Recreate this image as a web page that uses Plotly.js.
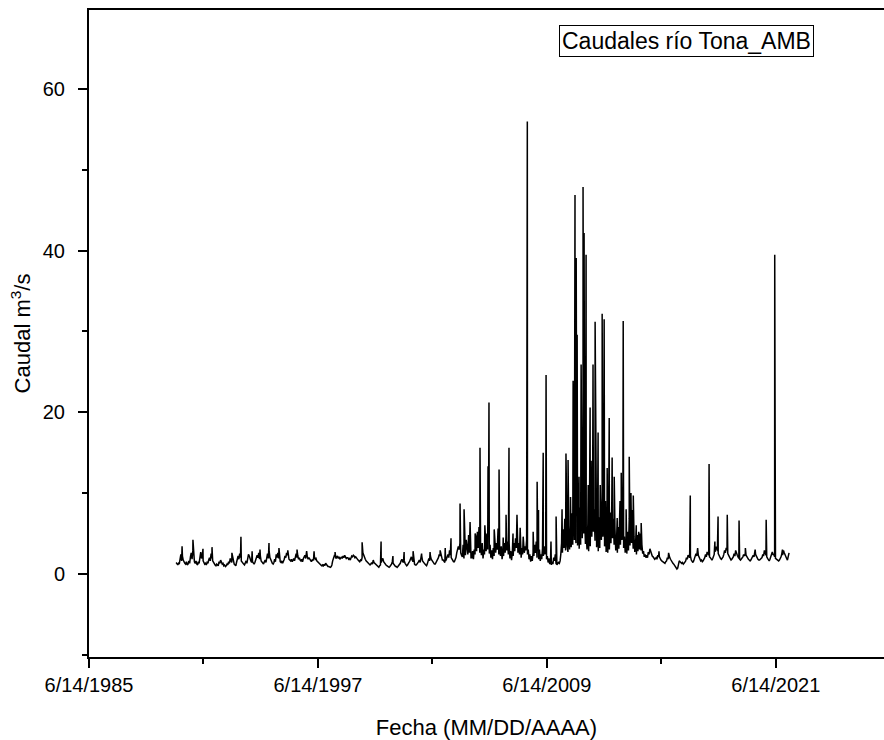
<!DOCTYPE html>
<html>
<head>
<meta charset="utf-8">
<script src="https://cdn.plot.ly/plotly-3.0.1.min.js"></script>
<style>html,body{margin:0;padding:0;background:#fff;}#chart{width:884px;height:740px;}</style>
</head>
<body>
<div id="chart"></div>
<script>
// Half-monthly flow (m3/s): two readings per month (day 8 and day 23)
const inicio = 1990;
const caudal1990_1997 = [
  1.4,1.2, 1.1,1.3, 1.2,1.8, 2.4,1.6, 2.2,1.7, 1.4,1.3, 1.2,1.5, 1.1,1.2, 1.6,1.3, 2.1,2.6, 1.8,2.9, 1.7,1.5,
  1.3,1.6, 1.2,1.1, 1.5,1.3, 2.0,2.7, 1.9,2.3, 1.6,1.4, 1.2,1.3, 1.1,1.4, 1.3,1.7, 2.0,1.6, 2.5,1.9, 1.6,1.4,
  1.2,1.1, 1.0,1.2, 1.1,1.0, 1.5,1.3, 1.7,1.4, 1.2,1.3, 1.0,1.1, 0.9,1.0, 1.2,1.1, 1.5,1.3, 1.9,1.6, 1.4,2.1,
  1.3,1.2, 1.1,1.0, 1.4,1.7, 2.2,1.8, 2.5,2.0, 1.6,1.4, 1.3,1.2, 1.1,1.4, 1.6,1.3, 1.9,2.4, 2.2,1.8, 1.6,1.4,
  1.5,1.3, 1.2,1.4, 1.6,1.9, 2.3,2.0, 2.6,1.8, 2.2,1.6, 1.4,1.3, 1.2,1.5, 1.7,1.4, 2.0,2.5, 1.9,2.8, 2.0,1.7,
  1.5,1.3, 1.2,1.4, 1.8,1.5, 2.4,2.0, 2.6,1.9, 1.7,1.5, 1.4,1.6, 1.3,1.5, 1.8,2.2, 2.0,2.6, 2.3,2.0, 1.8,1.7,
  1.6,1.8, 1.5,1.7, 1.9,1.6, 2.2,2.5, 2.0,2.3, 1.8,2.0, 1.7,1.6, 1.8,1.5, 1.9,2.1, 2.3,1.9, 2.4,2.1, 1.8,2.0,
  1.8,1.6, 1.5,1.7, 1.6,1.9, 2.1,1.8, 1.9,1.6, 1.5,1.4, 1.3,1.2, 1.1,1.0, 1.1,0.9, 1.2,1.0, 1.3,1.1, 1.0,0.9
];
const caudal1998_2005 = [
  0.9,0.8, 0.8,0.9, 1.1,1.6, 2.0,2.2, 2.1,1.9, 2.0,2.2, 1.9,2.1, 1.8,2.0, 2.1,1.9, 2.2,2.0, 2.3,2.1, 1.9,2.0,
  2.0,1.8, 1.9,1.7, 2.0,2.2, 2.1,2.3, 2.2,2.0, 2.1,1.9, 1.8,1.7, 1.6,1.5, 1.7,1.6, 2.0,2.6, 2.2,1.9, 1.8,1.6,
  1.5,1.3, 1.2,1.1, 1.1,1.2, 1.4,1.2, 1.7,1.4, 1.3,1.1, 1.0,0.9, 0.9,0.8, 1.0,1.1, 1.4,1.7, 1.9,1.5, 1.3,1.2,
  1.1,1.0, 0.9,0.9, 0.8,0.9, 1.0,1.2, 1.5,1.3, 1.1,1.0, 0.9,0.9, 0.8,0.9, 1.0,1.1, 1.3,1.6, 1.8,1.5, 1.4,1.6,
  1.3,1.1, 1.0,1.1, 1.2,1.4, 1.6,1.9, 2.1,1.7, 1.5,1.3, 1.2,1.1, 1.1,1.2, 1.3,1.5, 1.7,1.4, 2.0,2.2, 1.6,1.4,
  1.3,1.2, 1.1,1.0, 1.2,1.5, 1.9,1.6, 2.2,1.8, 1.6,1.4, 1.3,1.2, 1.2,1.4, 1.5,1.7, 2.0,2.4, 2.2,2.6, 1.9,1.7,
  1.7,1.5, 1.4,1.6, 1.8,2.1, 2.4,2.0, 2.9,2.3, 2.0,1.8, 1.6,1.5, 1.5,1.8, 2.0,2.6, 2.9,3.4, 3.0,3.8, 2.6,2.3,
  2.1,3.6, 1.9,2.9, 2.3,4.2, 3.2,2.4, 4.8,2.6, 3.5,2.0, 2.0,2.8, 1.8,3.0, 2.4,4.6, 2.8,5.2, 3.2,5.8, 2.6,3.6
];
const caudal2006_2013 = [
  2.3,3.8, 1.9,3.0, 2.4,4.4, 2.8,5.0, 3.0,4.6, 2.5,3.6, 2.0,2.9, 1.8,3.2, 2.2,4.0, 2.6,3.8, 3.0,5.6, 2.4,3.4,
  2.2,3.4, 1.8,2.6, 2.2,3.8, 2.6,4.6, 2.9,4.0, 2.4,3.8, 1.9,2.8, 1.7,2.6, 2.2,3.8, 2.8,4.4, 3.2,5.8, 2.6,3.8,
  2.4,3.6, 2.0,3.2, 2.4,4.0, 2.6,3.4, 2.9,4.2, 2.4,3.0, 1.8,2.4, 1.5,2.2, 1.6,2.6, 2.2,3.6, 2.6,4.0, 2.0,2.8,
  1.8,3.0, 1.6,2.4, 1.8,3.2, 2.2,3.4, 2.4,2.8, 1.8,2.2, 1.4,1.9, 1.2,1.6, 1.1,1.5, 1.2,2.0, 1.6,2.4, 1.2,1.1,
  1.2,1.4, 1.3,1.6, 2.4,3.8, 2.6,5.5, 3.2,6.8, 2.9,4.6, 3.4,2.7, 5.2,3.0, 6.0,3.3, 7.5,3.6, 9.0,4.2, 6.5,3.8,
  7.2,3.5, 5.6,3.1, 8.2,3.6, 9.5,4.4, 11.0,5.0, 6.8,3.7, 4.9,3.0, 6.2,2.8, 7.8,3.4, 9.8,4.6, 10.5,5.2, 8.0,4.1,
  6.5,3.3, 5.0,2.8, 7.0,3.2, 8.8,4.2, 9.4,4.6, 6.5,3.4, 5.2,2.7, 4.4,2.6, 6.0,3.0, 7.6,3.8, 8.6,4.4, 6.8,3.6,
  5.6,2.9, 4.2,2.6, 5.8,3.1, 7.2,3.6, 8.4,4.2, 5.9,3.2, 4.6,2.6, 3.8,2.5, 5.2,2.9, 6.8,3.5, 7.4,3.8, 5.6,3.1
];
const caudal2014_2022 = [
  4.6,2.7, 3.8,2.4, 4.8,2.8, 5.2,3.0, 5.0,2.9, 3.6,2.5, 2.8,2.1, 2.4,2.0, 2.3,2.0, 2.7,2.4, 3.1,2.8, 2.4,2.2,
  2.1,1.9, 1.8,1.9, 2.0,1.8, 2.3,2.1, 2.1,1.8, 1.7,1.6, 1.5,1.4, 1.4,1.3, 1.5,1.6, 2.0,1.8, 2.3,2.0, 1.8,1.6,
  1.5,1.3, 1.2,1.0, 0.9,0.8, 0.6,0.7, 1.3,1.6, 1.5,1.4, 1.3,1.4, 1.2,1.3, 1.4,1.6, 2.0,1.8, 2.3,2.1, 2.0,2.2,
  1.7,1.5, 1.4,1.6, 1.9,2.1, 2.5,2.2, 2.7,2.3, 2.0,1.8, 1.6,1.7, 1.5,1.6, 1.8,2.0, 2.4,2.1, 2.7,2.4, 2.3,2.1,
  2.0,1.8, 1.7,1.9, 2.1,2.4, 2.7,3.3, 3.3,2.8, 2.5,2.3, 2.0,1.9, 1.8,1.9, 2.1,2.4, 2.9,2.6, 3.2,2.9, 2.5,2.2,
  2.1,1.9, 1.7,1.8, 1.9,2.1, 2.5,2.2, 2.9,2.5, 2.3,2.1, 1.9,1.8, 1.7,1.8, 1.9,2.1, 2.4,2.2, 2.5,2.3, 2.1,1.9,
  1.8,1.7, 1.6,1.7, 1.9,2.0, 2.3,2.1, 2.7,2.4, 2.1,1.9, 1.8,1.7, 1.7,1.8, 1.9,2.0, 2.4,2.2, 2.9,2.6, 2.3,2.1,
  1.9,1.7, 1.6,1.8, 2.0,2.3, 2.7,2.4, 2.4,2.1, 1.9,1.8, 1.7,1.6, 1.6,1.7, 1.9,2.1, 2.5,2.3, 2.9,2.6, 2.3,2.0,
  1.9,1.7, 2.2,2.6
];

// Daily peaks (crecientes)
const fechasPicos = [
  '1990-05-01','1990-11-25','1991-06-05','1991-11-25','1992-12-10','1993-06-01',
  '1994-01-01','1994-06-01','1994-11-20','1995-05-30','1995-11-15','1996-05-10',
  '1996-11-10','1997-04-01','1998-05-08','1999-10-08','2000-10-05','2001-05-20',
  '2001-12-20','2002-06-10','2002-11-20','2003-05-01','2003-11-10','2004-02-15',
  '2004-06-05','2004-11-25','2005-02-10','2005-06-05','2005-09-10','2005-12-12',
  '2006-03-15','2006-05-15','2006-06-02','2006-09-10','2006-12-12','2007-03-01',
  '2007-04-25','2007-06-20','2007-09-05','2007-11-20','2008-01-20','2008-03-18',
  '2008-05-25','2008-06-05','2008-09-25','2008-12-10','2009-01-05','2009-04-05',
  '2009-05-30','2009-09-01','2009-12-08','2010-04-01','2010-06-15','2010-07-25',
  '2010-09-10','2010-10-30','2010-12-05','2010-12-28','2011-01-15','2011-02-20',
  '2011-04-01','2011-05-08','2011-05-28','2011-07-05','2011-08-15','2011-09-20',
  '2011-10-10','2011-11-15','2011-12-25','2012-02-20','2012-04-01','2012-05-08',
  '2012-06-15','2012-07-10','2012-08-12','2012-09-20','2012-11-15','2012-12-25',
  '2013-02-20','2013-03-28','2013-04-15','2013-05-08','2013-06-15','2013-08-10',
  '2013-10-08','2013-11-10','2013-12-05','2013-12-25','2014-02-20','2014-05-25',
  '2015-05-01','2015-11-01','2016-12-20','2017-05-10','2017-12-15','2018-04-05',
  '2018-06-05','2018-11-28','2019-07-12','2019-11-10','2020-05-15','2020-12-12',
  '2021-05-25','2021-06-02','2021-10-20'
];
const valoresPicos = [
  3.4, 4.2, 3.1, 3.3, 2.6, 4.6,
  2.8, 3.0, 3.8, 3.2, 2.9, 3.0,
  2.8, 2.8, 2.7, 3.9, 4.0, 2.2,
  2.7, 2.8, 2.5, 2.7, 2.9, 3.2,
  4.4, 8.7, 8.0, 6.4, 5.0, 15.6,
  6.0, 13.3, 21.2, 5.5, 12.9, 4.5,
  7.3, 15.6, 5.0, 7.3, 5.7, 4.6,
  51.7, 56.0, 5.2, 11.4, 7.9, 15.0,
  24.6, 4.0, 7.1, 8.0, 14.9, 14.1,
  9.5, 23.9, 46.9, 39.1, 29.6, 12.0,
  25.9, 47.9, 42.2, 39.5, 11.0, 20.6,
  14.0, 25.9, 31.2, 17.5, 11.0, 32.2,
  31.5, 9.0, 13.1, 19.3, 14.4, 12.0,
  6.9, 6.7, 9.0, 12.5, 31.3, 8.0,
  14.5, 10.0, 7.9, 9.7, 6.0, 6.3,
  2.8, 2.6, 9.7, 3.2, 13.6, 4.0,
  7.1, 7.3, 6.6, 3.2, 3.0, 6.7,
  39.5, 16.3, 3.0
];

const xTickVals = ['1985-06-14', '1997-06-14', '2009-06-14', '2021-06-14'];
const xTickLabels = ['6/14/1985', '6/14/1997', '6/14/2009', '6/14/2021'];
const xMinorVals = ['1991-06-14', '2003-06-14', '2015-06-14'];

// Build one chronological series from half-monthly values + peaks
const base = caudal1990_1997.concat(caudal1998_2005, caudal2006_2013, caudal2014_2022);
const pts = [];
base.forEach(function (v, i) {
  const y = inicio + Math.floor(i / 24);
  const m = Math.floor((i % 24) / 2) + 1;
  const d = (i % 2 === 0) ? '08' : '23';
  pts.push({d: y + '-' + String(m).padStart(2, '0') + '-' + d, v: v});
});
fechasPicos.forEach(function (d, i) { pts.push({d: d, v: valoresPicos[i]}); });
pts.sort(function (a, b) { return a.d < b.d ? -1 : (a.d > b.d ? 1 : 0); });

const trace = {
  x: pts.map(function (p) { return p.d; }),
  y: pts.map(function (p) { return p.v; }),
  type: 'scatter',
  mode: 'lines',
  line: {color: '#000000', width: 1.5},
  name: 'Caudales río Tona_AMB'
};

const fuente = 'Liberation Sans, Arial, Helvetica, sans-serif';
const layout = {
  width: 884,
  height: 740,
  margin: {l: 89, r: 0, t: 10, b: 83, pad: 0},
  paper_bgcolor: '#ffffff',
  plot_bgcolor: '#ffffff',
  font: {family: fuente, size: 20, color: '#000000'},
  showlegend: false,
  xaxis: {
    type: 'date',
    range: ['1985-06-14', '2027-02-15'],
    tickmode: 'array',
    tickvals: xTickVals,
    ticktext: xTickLabels,
    ticks: 'outside',
    ticklen: 9,
    tickwidth: 2,
    tickcolor: '#000000',
    showline: true,
    linecolor: '#000000',
    linewidth: 2,
    mirror: true,
    showgrid: false,
    zeroline: false,
    tickfont: {family: fuente, size: 20, color: '#000000'},
    minor: {tickvals: xMinorVals, ticks: 'outside', ticklen: 5, tickwidth: 2, tickcolor: '#000000', showgrid: false},
    title: {text: 'Fecha (MM/DD/AAAA)', font: {family: fuente, size: 22, color: '#000000'}, standoff: 25}
  },
  yaxis: {
    range: [-10.3, 69.8],
    tickmode: 'linear',
    tick0: 0,
    dtick: 20,
    ticks: 'outside',
    ticklen: 9,
    tickwidth: 2,
    tickcolor: '#000000',
    ticklabelstandoff: 9,
    showline: true,
    linecolor: '#000000',
    linewidth: 2,
    showgrid: false,
    zeroline: false,
    tickfont: {family: fuente, size: 20, color: '#000000'},
    minor: {tick0: 10, dtick: 20, ticks: 'outside', ticklen: 5, tickwidth: 2, tickcolor: '#000000', showgrid: false},
    title: {text: 'Caudal m<sup>3</sup>/s', font: {family: fuente, size: 22, color: '#000000'}, standoff: 6}
  },
  annotations: [{
    xref: 'paper', yref: 'paper',
    x: 0.752, y: 0.952,
    xanchor: 'center', yanchor: 'middle',
    text: 'Caudales río Tona_AMB',
    showarrow: false,
    font: {family: fuente, size: 23, color: '#000000'},
    bordercolor: '#000000',
    borderwidth: 1,
    borderpad: 2,
    bgcolor: '#ffffff'
  }]
};

Plotly.newPlot('chart', [trace], layout, {displayModeBar: false, staticPlot: true});
</script>
</body>
</html>
